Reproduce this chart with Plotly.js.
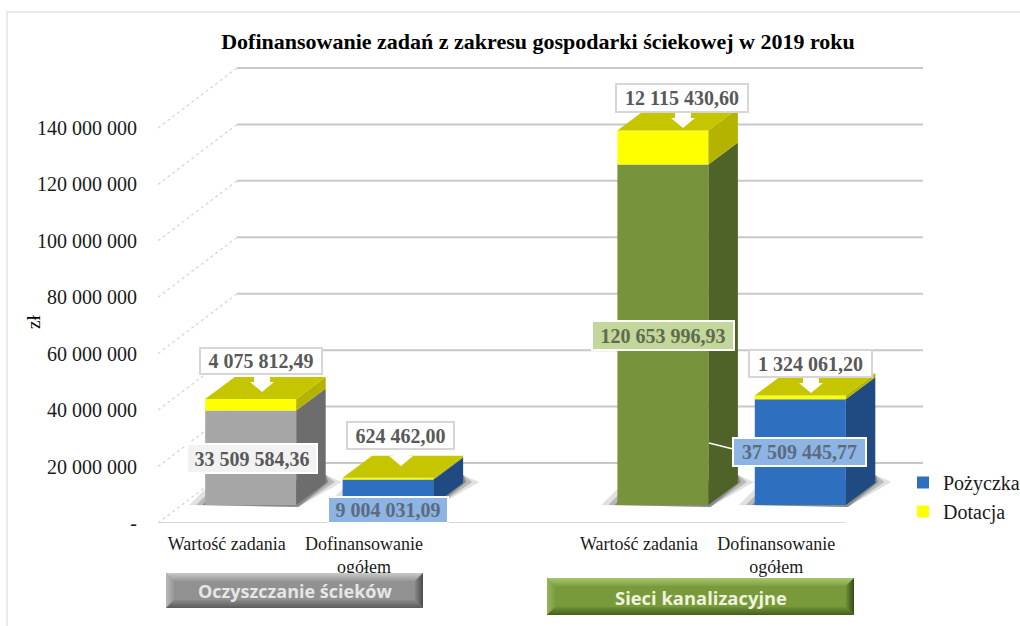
<!DOCTYPE html>
<html><head><meta charset="utf-8">
<script src="https://cdn.plot.ly/plotly-3.0.1.min.js"></script>
<style>html,body{margin:0;padding:0;background:#fff;overflow:hidden}#c{width:1020px;height:626px}</style>
</head><body><div id="c"></div>
<script>
// ---- data ----
const slotNames = ['Wartość zadania', 'Dofinansowanie<br>ogółem', '', 'Wartość zadania', 'Dofinansowanie<br>ogółem'];
const wartoscSlots = [0, 3];
const wartoscZadania = [33509584.36, 120653996.93];
const pozyczkaSlots = [1, 4];
const pozyczka = [9004031.09, 37509445.77];
const dotacjaSlots = [0, 1, 3, 4];
const dotacja = [4075812.49, 624462.00, 12115430.60, 1324061.20];
const yTicks = [0, 20000000, 40000000, 60000000, 80000000, 100000000, 120000000, 140000000];
const groupNames = ['Oczyszczanie ścieków', 'Sieci kanalizacyjne'];
const chartTitle = 'Dofinansowanie zadań z zakresu gospodarki ściekowej w 2019 roku';

// ---- frame geometry (pixels of the page) ----
const L = 158, T = 60, R = 930, B = 523;
const slotPx = 137.4, zlPerPx = 354422;
const xRange = [-0.5, -0.5 + (R - L) / slotPx];
const yRange = [0, (B - T) * zlPerPx];
const dxU = px => px / slotPx, dyU = px => px * zlPerPx;
const pX = px => (px - L) / (R - L), pY = py => (B - py) / (B - T);

const barW = dxU(91);
const offX = dxU(24), offY = dyU(18);      // bar front plane relative to axis plane
const sideX = dxU(29.5), sideY = dyU(22);  // bar depth
const wallX = dxU(79), wallY = dyU(60);    // back wall relative to axis plane

const fmt = v => {
  const [a, b] = v.toFixed(2).split('.');
  return a.replace(/\B(?=(\d{3})+$)/g, ' ') + ',' + b;
};
const fmtTick = v => v === 0 ? '-' : String(v).replace(/\B(?=(\d{3})+$)/g, ' ');

const serif = '"Liberation Serif","Times New Roman",serif';
const C = {
  gray: ['#a6a6a6', '#6d6d6d'], olive: ['#77933c', '#4f6228'],
  blue: ['#2f6fbf', '#1f4a82'], yellow: ['#ffff00', '#b3b300', '#c6c600']
};

const traces = [];
const shapes = [];

// base values per slot
const lower = {};
wartoscSlots.forEach((s, i) => lower[s] = wartoscZadania[i]);
pozyczkaSlots.forEach((s, i) => lower[s] = pozyczka[i]);
const xc = s => s + offX;

// gridlines on the wall: slanted part from the axis plane, then along the wall
yTicks.forEach(v => {
  shapes.push({type: 'line', layer: 'below', xref: 'x', yref: 'y', x0: -0.5, y0: v, x1: -0.5 + wallX, y1: v + wallY,
    line: {color: '#d4d4d4', width: 1.2, dash: 'dot'}});
  shapes.push({type: 'line', layer: 'below', xref: 'x', yref: 'y', x0: -0.5 + wallX, y0: v + wallY, x1: 4.5 + wallX - dxU(1), y1: v + wallY,
    line: {color: '#c8c8c8', width: 2}});
});
shapes.push({type: 'line', layer: 'below', xref: 'x', yref: 'y', x0: -0.5, y0: 0, x1: 4.5, y1: 0, line: {color: '#d8d8d8', width: 2}});

// floor shadows
dotacjaSlots.forEach(s => {
  const l = xc(s) - barW / 2, r = xc(s) + barW / 2, b = offY;
  [[16, 'rgba(120,120,120,0.22)'], [9, 'rgba(90,90,90,0.3)'], [3, 'rgba(70,70,70,0.4)']].forEach(([g, col]) => {
    const p = [[l - dxU(g), b + dyU(0)], [r + dxU(2), b - dyU(2)], [r + sideX + dxU(g), b + sideY + dyU(1)],
               [r + sideX, b + sideY + dyU(8)], [l, b + dyU(g)]];
    shapes.push({type: 'path', layer: 'below', xref: 'x', yref: 'y', line: {width: 0}, fillcolor: col,
      path: 'M' + p.map(q => q[0] + ',' + q[1]).join('L') + 'Z'});
  });
});

// front faces, drawn by the bar trace
traces.push({type: 'bar', name: 'Wartość zadania', showlegend: false, x: wartoscSlots.map(xc), y: wartoscZadania,
  base: wartoscSlots.map(() => offY), width: barW, marker: {color: [C.gray[0], C.olive[0]], line: {width: 0}}, hoverinfo: 'skip'});
traces.push({type: 'bar', name: 'Pożyczka', x: pozyczkaSlots.map(xc), y: pozyczka,
  base: pozyczkaSlots.map(() => offY), width: barW, marker: {color: C.blue[0], line: {width: 0}}, hoverinfo: 'skip'});
traces.push({type: 'bar', name: 'Dotacja', x: dotacjaSlots.map(xc), y: dotacja,
  base: dotacjaSlots.map(s => offY + lower[s]), width: barW, marker: {color: C.yellow[0], line: {width: 0}}, hoverinfo: 'skip'});

// side and top faces
const face = (xs, ys, col) => traces.push({type: 'scatter', mode: 'lines', x: xs, y: ys, fill: 'toself', fillcolor: col,
  line: {width: 0, color: col}, showlegend: false, hoverinfo: 'skip'});
const side = (s, y0, y1, col) => {
  const r = xc(s) + barW / 2;
  face([r, r + sideX, r + sideX, r, r], [y0, y0 + sideY, y1 + sideY, y1, y0], col);
};
wartoscSlots.forEach((s, i) => side(s, offY, offY + wartoscZadania[i], i === 0 ? C.gray[1] : C.olive[1]));
pozyczkaSlots.forEach((s, i) => side(s, offY, offY + pozyczka[i], C.blue[1]));
dotacjaSlots.forEach((s, i) => {
  const y0 = offY + lower[s], y1 = y0 + dotacja[i];
  side(s, y0, y1, C.yellow[1]);
  const l = xc(s) - barW / 2, r = xc(s) + barW / 2;
  face([l, l + sideX, r + sideX, r, l], [y1, y1 + sideY, y1 + sideY, y1, y1], C.yellow[2]);
});

// value labels (page pixels: centre x, centre y, width, height)
const whiteBox = {bg: '#ffffff', border: '#d6d6d6', color: '#595959'};
const labels = [
  [dotacja[0], 261, 361, 124, 28, whiteBox],
  [wartoscZadania[0], 252, 458.5, 132, 31, {bg: '#f2f2f2', border: '#ffffff', color: '#595959'}],
  [dotacja[1], 400.5, 435.5, 109, 29, whiteBox],
  [pozyczka[0], 388, 510, 122, 28, {bg: '#8db4e2', border: '#ffffff', color: '#5b6b80'}],
  [dotacja[2], 682, 98, 134, 30, whiteBox],
  [wartoscZadania[1], 663, 335.5, 144, 31, {bg: '#c3d69b', border: '#ffffff', color: '#5e6b4c'}],
  [dotacja[3], 810.5, 363.5, 125, 29, whiteBox],
  [pozyczka[1], 799.5, 452, 135, 30, {bg: '#8db4e2', border: '#ffffff', color: '#5b6b80'}]
];
const annotations = labels.map(([v, cx, cy, w, h, st]) => ({
  xref: 'paper', yref: 'paper', x: pX(cx), y: pY(cy), xanchor: 'center', yanchor: 'middle', showarrow: false,
  text: '<b>' + fmt(v) + '</b>', font: {family: serif, size: 20, color: st.color},
  bgcolor: st.bg, bordercolor: st.border, borderwidth: 2, borderpad: 0, width: w - 4, height: h - 4, align: 'center', valign: 'middle'
}));

// axis unit
annotations.push({xref: 'paper', yref: 'paper', x: pX(33), y: pY(322), xanchor: 'center', yanchor: 'middle', showarrow: false,
  text: 'zł', textangle: -90, font: {family: serif, size: 19, color: '#000'}});

// white callout arrows under the labels of Dotacja
[[262, 374, 392], [401, 449, 466], [683, 112, 128], [811, 377, 393]].forEach(([x, y0, y1]) => {
  const m = y1 - 10;
  const p = [[x - 8, y0], [x + 8, y0], [x + 8, m], [x + 12, m], [x, y1], [x - 12, m], [x - 8, m]];
  shapes.push({type: 'path', layer: 'above', xref: 'paper', yref: 'paper', fillcolor: '#ffffff', line: {width: 0},
    path: 'M' + p.map(q => pX(q[0]) + ',' + pY(q[1])).join('L') + 'Z'});
});
// leader lines
[[709, 443, 745, 452], [591, 331, 606, 335]].forEach(([a, b, c, d]) => shapes.push({type: 'line', layer: 'above', xref: 'paper', yref: 'paper',
  x0: pX(a), y0: pY(b), x1: pX(c), y1: pY(d), line: {color: '#ffffff', width: 1.5}}));

// group banners with a bevel fading towards the centre colour
const hex = c => [1, 3, 5].map(i => parseInt(c.substr(i, 2), 16));
const mix = (a, b, t) => { const A = hex(a), B = hex(b); return 'rgb(' + A.map((v, i) => Math.round(v + (B[i] - v) * t)).join(',') + ')'; };
const banner = (name, x0, y0, x1, y1, cols, textCol, size, cx, cy) => {
  const steps = 8;
  const poly = (pts, col) => shapes.push({type: 'path', layer: 'above', xref: 'paper', yref: 'paper', fillcolor: col, line: {width: 0},
    path: 'M' + pts.map(q => pX(q[0]) + ',' + pY(q[1])).join('L') + 'Z'});
  poly([[x0, y0], [x1, y0], [x1, y1], [x0, y1]], cols[0]);
  for (let k = 0; k < steps; k++) {
    const a = k, b = k + 1, t = k / steps * 0.9;
    poly([[x0 + a, y0 + a], [x1 - a, y0 + a], [x1 - b, y0 + b], [x0 + b, y0 + b]], mix(cols[1], cols[0], t));
    poly([[x0 + a, y0 + a], [x0 + b, y0 + b], [x0 + b, y1 - b], [x0 + a, y1 - a]], mix(cols[2], cols[0], t));
    poly([[x1 - a, y0 + a], [x1 - b, y0 + b], [x1 - b, y1 - b], [x1 - a, y1 - a]], mix(cols[3], cols[0], t));
    poly([[x0 + a, y1 - a], [x0 + b, y1 - b], [x1 - b, y1 - b], [x1 - a, y1 - a]], mix(cols[4], cols[0], t));
  }
  annotations.push({xref: 'paper', yref: 'paper', x: pX(cx), y: pY(cy), xanchor: 'center', yanchor: 'middle', showarrow: false,
    text: '<b>' + name + '</b>', font: {family: '"Open Sans","Noto Sans",sans-serif', size: size, color: textCol}});
};
banner(groupNames[0], 166, 573, 423, 608, ['#919191', '#c6c6c6', '#b8b8b8', '#4f4f4f', '#5e5e5e'], '#e6e6e6', 18, 295, 591);
banner(groupNames[1], 547, 578, 854, 615, ['#789a3a', '#a5c46c', '#93b35a', '#39501a', '#47601f'], '#eef3df', 18.4, 701, 597);

// outer frame
shapes.push({type: 'rect', layer: 'below', xref: 'paper', yref: 'paper', x0: pX(7), y0: pY(12), x1: pX(1030), y1: pY(640),
  fillcolor: 'rgba(0,0,0,0)', line: {color: '#e4e4e4', width: 1.5}});

const layout = {
  width: 1020, height: 626, autosize: false, paper_bgcolor: '#fff', plot_bgcolor: 'rgba(0,0,0,0)',
  margin: {l: L, r: 1020 - R, t: T, b: 626 - B, pad: 0, autoexpand: false},
  barmode: 'overlay',
  title: {text: '<b>' + chartTitle + '</b>', font: {family: serif, size: 22, color: '#000'},
    xref: 'container', yref: 'container', x: 538 / 1020, y: 1 - 41 / 626, xanchor: 'center', yanchor: 'middle'},
  xaxis: {range: xRange, tickmode: 'array', tickvals: slotNames.map((_, i) => i), ticktext: slotNames, showgrid: false, zeroline: false,
    showline: false, ticks: '', tickangle: 0, ticklabelstandoff: 8, tickfont: {family: serif, size: 18, color: '#1a1a1a'}, fixedrange: true},
  yaxis: {range: yRange, tickmode: 'array', tickvals: yTicks, ticktext: yTicks.map(fmtTick), showgrid: false, zeroline: false,
    showline: false, ticks: '', ticklabelstandoff: 20, tickfont: {family: serif, size: 20, color: '#1a1a1a'}, fixedrange: true},
  legend: {x: pX(903), y: pY(463), xanchor: 'left', yanchor: 'top', orientation: 'v', traceorder: 'normal',
    font: {family: serif, size: 20, color: '#1a1a1a'}, bgcolor: 'rgba(0,0,0,0)', tracegroupgap: 0, itemclick: false, itemdoubleclick: false},
  shapes: shapes, annotations: annotations, showlegend: true
};
Plotly.newPlot('c', traces, layout, {displayModeBar: false, staticPlot: true});
</script></body></html>
